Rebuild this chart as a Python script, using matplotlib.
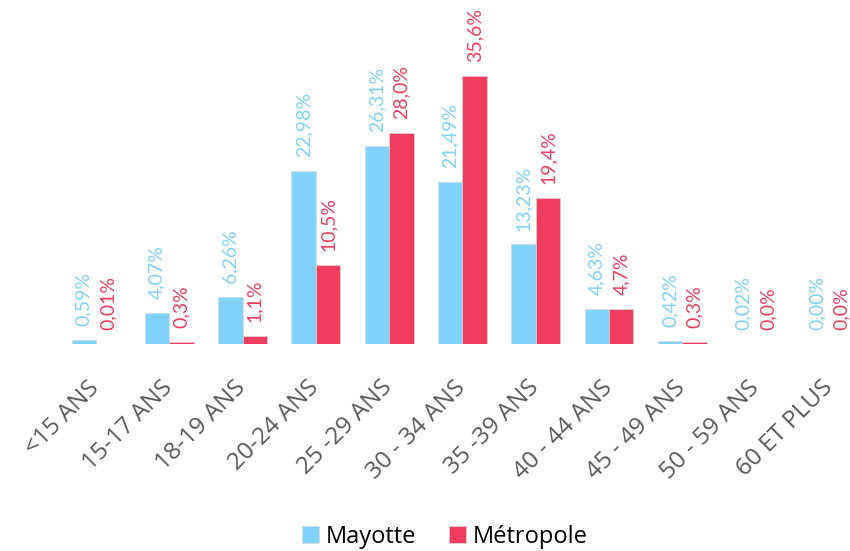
import matplotlib.pyplot as plt
import numpy as np

plt.rcParams['font.family'] = ['Lato', 'DejaVu Sans']

categories = ["<15 ANS", "15-17 ANS", "18-19 ANS", "20-24 ANS", "25 -29 ANS", "30 - 34 ANS",
              "35 -39 ANS", "40 - 44 ANS", "45 - 49 ANS", "50 - 59 ANS", "60 ET PLUS"]
mayotte = [0.59, 4.07, 6.26, 22.98, 26.31, 21.49, 13.23, 4.63, 0.42, 0.02, 0.00]
metropole = [0.01, 0.3, 1.1, 10.5, 28.0, 35.6, 19.4, 4.7, 0.3, 0.0, 0.0]
mayotte_labels = ["0,59%", "4,07%", "6,26%", "22,98%", "26,31%", "21,49%", "13,23%",
                  "4,63%", "0,42%", "0,02%", "0,00%"]
metropole_labels = ["0,01%", "0,3%", "1,1%", "10,5%", "28,0%", "35,6%", "19,4%",
                    "4,7%", "0,3%", "0,0%", "0,0%"]

blue = "#81D2FA"
red = "#F03D5F"

fig = plt.figure(figsize=(8.5, 5.51), dpi=100)
left = 59.3 / 850
ax = fig.add_axes([left, 207 / 551, 1 - left, 331 / 551])

x = np.arange(len(categories))
w = 0.333
b1 = ax.bar(x - w / 2, mayotte, w, color=blue, edgecolor="#d9d9d9", linewidth=0.5, label="Mayotte")
b2 = ax.bar(x + w / 2, metropole, w, color=red, edgecolor="#d9d9d9", linewidth=0.5, label="Métropole")

for bars, labs, col in [(b1, mayotte_labels, blue), (b2, metropole_labels, red)]:
    for rect, lab in zip(bars, labs):
        ax.annotate(lab, (rect.get_x() + rect.get_width() / 2, rect.get_height()),
                    xytext=(0, 10), textcoords="offset points", rotation=90,
                    ha="center", va="bottom", color=col, fontsize=14)

ax.set_xlim(-0.5, 10 + 21 / 73.3)
ax.set_ylim(0, 44)
ax.set_xticks(x)
ax.set_xticklabels(categories, rotation=45, ha="right", va="center",
                   rotation_mode="anchor", fontsize=17.5, color="#595959",
                   family=["Open Sans", "DejaVu Sans"])
ax.tick_params(axis="x", length=0, pad=29)
ax.set_yticks([])
for s in ax.spines.values():
    s.set_visible(False)

fig.legend(handles=[b1, b2], loc="center", bbox_to_anchor=(445 / 850, 14 / 551),
           ncol=2, frameon=False, handlelength=0.7, handleheight=0.7,
           handletextpad=0.3, columnspacing=1.4,
           prop={"family": ["Open Sans", "DejaVu Sans"], "size": 17})

fig.savefig("out.png", dpi=100)
